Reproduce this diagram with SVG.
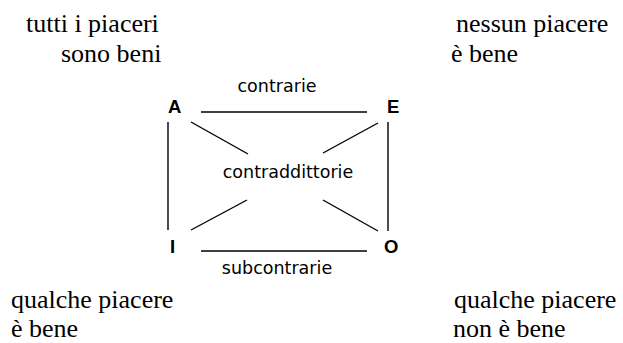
<svg xmlns="http://www.w3.org/2000/svg" width="623" height="343" viewBox="0 0 623 343">
<style>
.serif{font-family:"Liberation Serif","Times New Roman",serif;font-size:26px;fill:#000}
.sans{font-family:"DejaVu Sans",Verdana,sans-serif;font-size:17.5px;fill:#000}
.node{font-family:"Liberation Sans",Arial,sans-serif;font-weight:bold;font-size:18.5px;fill:#000}
.edge{stroke:#000;stroke-width:1.4;fill:none}
</style>
<rect width="623" height="343" fill="#fff"/>
<g id="texts">
<text class="serif" x="26" y="32">tutti i piaceri</text>
<text class="serif" x="61" y="62">sono beni</text>
<text class="serif" x="456" y="32">nessun piacere</text>
<text class="serif" x="451" y="62">è bene</text>
<text class="serif" x="11" y="308">qualche piacere</text>
<text class="serif" x="11" y="337">è bene</text>
<text class="serif" x="454" y="308">qualche piacere</text>
<text class="serif" x="453" y="337">non è bene</text>
</g>
<g id="node-A"><text class="node" x="168" y="113">A</text></g>
<g id="node-E"><text class="node" x="387" y="113">E</text></g>
<g id="node-I"><text class="node" x="170" y="253">I</text></g>
<g id="node-O"><text class="node" x="384" y="253">O</text></g>
<g id="connectors">
<line class="edge" x1="201" y1="112" x2="367" y2="112"/>
<line class="edge" x1="168" y1="122" x2="168" y2="230"/>
<line class="edge" x1="388" y1="122" x2="388" y2="231"/>
<line class="edge" x1="191" y1="122" x2="248" y2="154"/>
<line class="edge" x1="378" y1="123" x2="323" y2="153"/>
<line class="edge" x1="191" y1="230" x2="247" y2="200"/>
<line class="edge" x1="378" y1="231" x2="323" y2="200"/>
<line class="edge" x1="201" y1="251" x2="367" y2="251"/>
</g>
<g id="labels">
<text class="sans" x="277" y="92" text-anchor="middle">contrarie</text>
<text class="sans" x="288" y="178" text-anchor="middle">contraddittorie</text>
<text class="sans" x="277" y="274" text-anchor="middle">subcontrarie</text>
</g>
</svg>
